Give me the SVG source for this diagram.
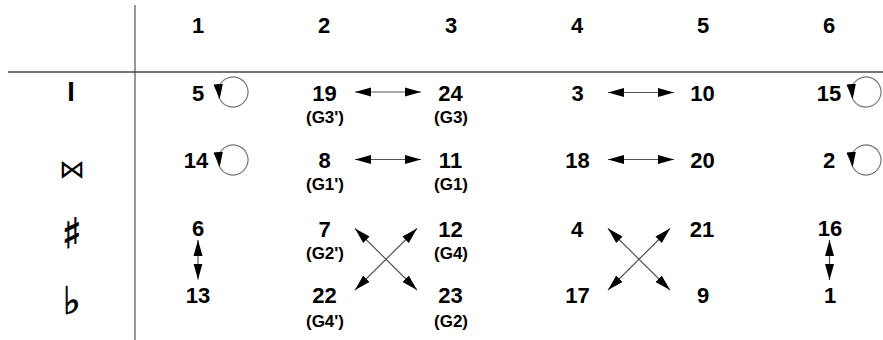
<svg xmlns="http://www.w3.org/2000/svg" width="883" height="340" viewBox="0 0 883 340">
<style>
.num{font-family:"Liberation Sans",Arial,sans-serif;font-weight:bold;font-size:22px;text-anchor:middle;fill:#000}
.sub{font-family:"Liberation Sans",Arial,sans-serif;font-weight:bold;font-size:17px;text-anchor:middle;fill:#000}
.sym{font-family:"DejaVu Sans",sans-serif;text-anchor:middle;fill:#000}
.edge{stroke:#555;stroke-width:1.2;fill:none;marker-start:url(#ah);marker-end:url(#ah)}
.loop{stroke:#777;stroke-width:1.2;fill:none;marker-end:url(#lh)}
</style>
<defs>
<marker id="ah" markerUnits="userSpaceOnUse" markerWidth="16" markerHeight="10" refX="16" refY="4.5" orient="auto-start-reverse" viewBox="0 0 16 9">
<path d="M0,0 L16,4.5 L0,9 Z" fill="#000"/>
</marker>
<marker id="lh" markerUnits="userSpaceOnUse" markerWidth="15" markerHeight="10" refX="15" refY="4.75" orient="84" viewBox="0 0 15 9.5">
<path d="M0,0 L15,4.75 L0,9.5 Z" fill="#000"/>
</marker>
</defs>
<rect width="883" height="340" fill="#fff"/>
<g id="grid">
<line x1="135" y1="5" x2="135" y2="340" stroke="#777" stroke-width="1.5"/>
<line x1="8" y1="72" x2="883" y2="72" stroke="#444" stroke-width="1.5"/>
</g>
<g id="headers">
<text class="num" x="198" y="33">1</text>
<text class="num" x="324" y="33">2</text>
<text class="num" x="451" y="33">3</text>
<text class="num" x="577" y="33">4</text>
<text class="num" x="703" y="33">5</text>
<text class="num" x="829" y="33">6</text>
</g>
<g id="rowlabels">
<text id="r1" x="71" y="101" style="font-family:'Liberation Sans',sans-serif;font-weight:bold;font-size:27px;text-anchor:middle">I</text>
<text id="r2" class="sym" x="72" y="178" style="font-size:26px">⋈</text>
<text id="r3" class="sym" x="72" y="248" style="font-size:42px;stroke:#000;stroke-width:0.8">♯</text>
<text id="r4" class="sym" x="72" y="314" style="font-size:38px;stroke:#000;stroke-width:0.8">♭</text>
</g>
<g id="connectors">
<path class="loop" d="M219.73,99 A15,15 0 0 1 246.27,85 A15,15 0 0 1 219.73,99"/>
<path class="loop" d="M219.73,167 A15,15 0 0 1 246.27,153 A15,15 0 0 1 219.73,167"/>
<path class="loop" d="M852.73,99 A15,15 0 0 1 879.27,85 A15,15 0 0 1 852.73,99"/>
<path class="loop" d="M852.73,167 A15,15 0 0 1 879.27,153 A15,15 0 0 1 852.73,167"/>
<line class="edge" x1="355" y1="92" x2="421" y2="92"/>
<line class="edge" x1="355" y1="159.5" x2="421" y2="159.5"/>
<line class="edge" x1="608" y1="92.5" x2="674" y2="92.5"/>
<line class="edge" x1="608" y1="159.5" x2="674" y2="159.5"/>
<line class="edge" x1="198" y1="240" x2="198" y2="279.5"/>
<line class="edge" x1="829.5" y1="240" x2="829.5" y2="280"/>
<line class="edge" x1="355" y1="228.5" x2="417" y2="290"/>
<line class="edge" x1="355" y1="290" x2="417" y2="228.5"/>
<line class="edge" x1="608" y1="228.5" x2="670" y2="290"/>
<line class="edge" x1="608" y1="290" x2="670" y2="228.5"/>
</g>
<g id="n5"><text class="num" x="198" y="101">5</text></g>
<g id="n19"><text class="num" x="324.5" y="101">19</text><text class="sub" x="325" y="123">(G3')</text></g>
<g id="n24"><text class="num" x="450.5" y="101">24</text><text class="sub" x="451" y="123">(G3)</text></g>
<g id="n3"><text class="num" x="577.5" y="101">3</text></g>
<g id="n10"><text class="num" x="702.5" y="101">10</text></g>
<g id="n15"><text class="num" x="829" y="101">15</text></g>
<g id="n14"><text class="num" x="196" y="168">14</text></g>
<g id="n8"><text class="num" x="324.5" y="168">8</text><text class="sub" x="325" y="190">(G1')</text></g>
<g id="n11"><text class="num" x="450.5" y="168">11</text><text class="sub" x="451" y="190">(G1)</text></g>
<g id="n18"><text class="num" x="577.5" y="168">18</text></g>
<g id="n20"><text class="num" x="702.5" y="168">20</text></g>
<g id="n2"><text class="num" x="829" y="168">2</text></g>
<g id="n6"><text class="num" x="198" y="236">6</text></g>
<g id="n7"><text class="num" x="324.5" y="237">7</text><text class="sub" x="325" y="259">(G2')</text></g>
<g id="n12"><text class="num" x="450.5" y="237">12</text><text class="sub" x="451" y="259">(G4)</text></g>
<g id="n4"><text class="num" x="577" y="237">4</text></g>
<g id="n21"><text class="num" x="702" y="237">21</text></g>
<g id="n16"><text class="num" x="830" y="236">16</text></g>
<g id="n13"><text class="num" x="198" y="303">13</text></g>
<g id="n22"><text class="num" x="324.5" y="303">22</text><text class="sub" x="325" y="327">(G4')</text></g>
<g id="n23"><text class="num" x="450.5" y="303">23</text><text class="sub" x="451" y="327">(G2)</text></g>
<g id="n17"><text class="num" x="577.5" y="303">17</text></g>
<g id="n9"><text class="num" x="703" y="303">9</text></g>
<g id="n1"><text class="num" x="830" y="303">1</text></g>
</svg>
